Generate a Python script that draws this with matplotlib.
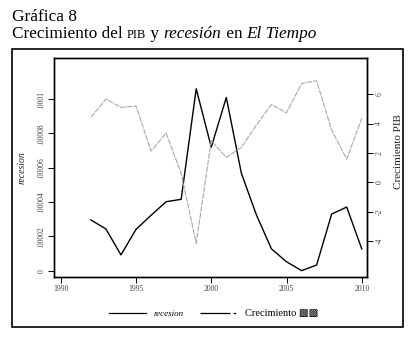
import matplotlib
matplotlib.use("Agg")
import matplotlib.pyplot as plt
from matplotlib.lines import Line2D
from matplotlib.patches import Rectangle

plt.rcParams['font.family'] = ['Liberation Serif', 'DejaVu Serif', 'DejaVu Sans']

# datos
anios = [1992, 1993, 1994, 1995, 1996, 1997, 1998, 1999, 2000, 2001,
         2002, 2003, 2004, 2005, 2006, 2007, 2008, 2009, 2010]
recesion = [2.96e-5, 2.43e-5, 0.92e-5, 2.41e-5, 3.23e-5, 4.02e-5, 4.16e-5, 10.6e-5, 7.2e-5, 10.1e-5,
            5.68e-5, 3.25e-5, 1.27e-5, 0.52e-5, 0.0, 0.33e-5, 3.3e-5, 3.71e-5, 1.27e-5]
crecimiento = [4.42, 5.67, 5.10, 5.19, 2.13, 3.35, 0.61, -4.15, 2.83, 1.70,
               2.38, 3.90, 5.30, 4.73, 6.73, 6.91, 3.56, 1.58, 4.35]
xticks = [1990, 1995, 2000, 2005, 2010]
yticks_izq = [0, 0.00002, 0.00004, 0.00006, 0.00008, 0.0001]
yticklab_izq = ["0", ".00002", ".00004", ".00006", ".00008", ".0001"]
yticks_der = [-4, -2, 0, 2, 4, 6]

fig = plt.figure(figsize=(4.11, 3.38), dpi=100)
ax = fig.add_axes([0.1314, 0.1814, 0.7616, 0.6461])
ax2 = ax.twinx()

ax.plot(anios, recesion, color="black", lw=1.0)
ax2.plot(anios, crecimiento, color="#a8a8a8", lw=0.8, linestyle=(0, (5, 1)))

ax.set_xlim(1989.55, 2010.35)
ax.set_ylim(-0.35e-5, 12.38e-5)
ax2.set_ylim(-6.42, 8.44)

tc = "#444444"
ax.set_xticks(xticks)
ax.set_xticklabels([str(t) for t in xticks], fontsize=5.5, color=tc)
ax.set_yticks(yticks_izq)
ax.set_yticklabels(yticklab_izq, fontsize=5.5, color=tc, rotation=90, va="center")
ax2.set_yticks(yticks_der)
ax2.set_yticklabels([str(t) for t in yticks_der], fontsize=5.5, color=tc, rotation=90, va="center")
for a in (ax, ax2):
    a.tick_params(direction="out", length=4, width=0.7, pad=2)
    for s in a.spines.values():
        s.set_linewidth(1.0)

fig.text(22 / 411, 1 - 168 / 338, "recesion", rotation=90, fontsize=7, style="italic",
         ha="center", va="center", color="#222222")
fig.text(398 / 411, 1 - 152 / 338, "Crecimiento PIB", rotation=90, fontsize=8,
         ha="center", va="center", color="#222222")

# leyenda
handles = [Line2D([], [], color="black", lw=0.9),
           Line2D([], [], color="black", lw=0.9, linestyle=(0, (24, 2.5, 2, 30)))]
leg = ax.legend(handles, ["recesion", "Crecimiento \u25a9\u25a9"], ncol=2, frameon=False,
                loc="center", bbox_to_anchor=(0.51, -0.17), fontsize=7.5,
                handlelength=3.6, columnspacing=1.6, handletextpad=0.7)
leg.get_texts()[0].set_style("italic")
leg.get_texts()[0].set_fontsize(6.5)

# marco exterior
fig.add_artist(Rectangle((12 / 411, 11 / 338), 391 / 411, 278 / 338, transform=fig.transFigure,
                         fill=False, lw=1.2, edgecolor="black"))

# titulo
fig.text(12 / 411, 1 - 21 / 338, "Gráfica 8", fontsize=12.4, va="baseline")
r = fig.canvas.get_renderer()
partes = [("Crecimiento del ", 12.4, "normal"), ("PIB", 9, "normal"), (" y ", 12.4, "normal"),
          ("recesión", 12.4, "italic"), (" en ", 12.4, "normal"), ("El Tiempo", 12.4, "italic")]
x = 12
for txt, fs, st in partes:
    t = fig.text(x / 411, 1 - 38 / 338, txt, fontsize=fs, style=st, va="baseline")
    x = t.get_window_extent(renderer=r).x1

fig.savefig("out.png", dpi=100)
